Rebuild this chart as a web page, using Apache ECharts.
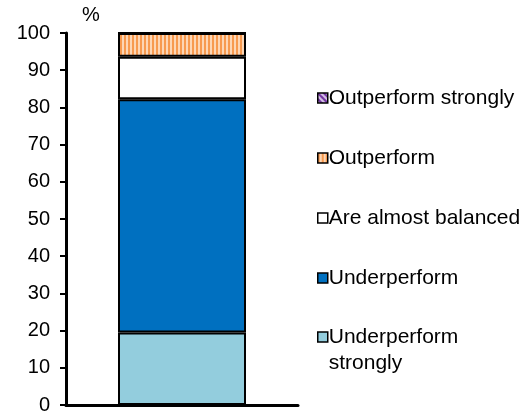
<!DOCTYPE html>
<html>
<head>
<meta charset="utf-8">
<script src="https://cdn.jsdelivr.net/npm/echarts@6/dist/echarts.min.js"></script>
<style>
  html, body { margin: 0; padding: 0; background: #fff; }
  #chart { width: 525px; height: 415px; }
</style>
</head>
<body>
<div id="chart"></div>
<script>
// Share of responses, stacked bottom to top
const categories = [''];
const seriesNames = ['Underperform strongly', 'Underperform', 'Are almost balanced', 'Outperform', 'Outperform strongly'];
const underperformStrongly = [19.5];
const underperform = [62.7];
const almostBalanced = [11.4];
const outperform = [6.4];
const outperformStrongly = [0];
const yTicks = { min: 0, max: 100, interval: 10 };

// Striped fills drawn on small canvases and used as repeating patterns
function stripePattern(w, h, draw) {
  const c = document.createElement('canvas');
  c.width = w; c.height = h;
  draw(c.getContext('2d'));
  return { image: c, repeat: 'repeat' };
}
const orangeStripes = stripePattern(4, 4, ctx => {
  ctx.fillStyle = '#fdd6b5'; ctx.fillRect(0, 0, 4, 4);
  ctx.fillStyle = '#f79a4f'; ctx.fillRect(0, 0, 2, 4);
});
const purpleDiagonal = stripePattern(6, 6, ctx => {
  ctx.fillStyle = '#d6c3e6'; ctx.fillRect(0, 0, 6, 6);
  ctx.strokeStyle = '#7030a0'; ctx.lineWidth = 2;
  ctx.beginPath();
  ctx.moveTo(0, 0); ctx.lineTo(6, 6);
  ctx.moveTo(-3, 3); ctx.lineTo(3, 9);
  ctx.moveTo(3, -3); ctx.lineTo(9, 3);
  ctx.stroke();
});

const values = [underperformStrongly, underperform, almostBalanced, outperform, outperformStrongly];
const fills = ['#93cddd', '#0070c0', '#ffffff', orangeStripes, purpleDiagonal];

const legendBase = {
  orient: 'vertical',
  left: 312,
  itemGap: 36,
  itemWidth: 10,
  itemHeight: 10,
  icon: 'rect',
  itemStyle: { borderColor: '#000', borderWidth: 1.5 },
  textStyle: { fontSize: 21, color: '#000', lineHeight: 24, padding: [0, 0, 0, -4] }
};

const chart = echarts.init(document.getElementById('chart'), null, { renderer: 'canvas' });
chart.setOption({
  animation: false,
  textStyle: { fontFamily: 'Liberation Sans, Arial, sans-serif', color: '#000' },
  grid: { left: 66, right: 227, top: 33, bottom: 6 },
  xAxis: {
    type: 'category',
    data: categories,
    axisLine: { lineStyle: { color: '#000', width: 3 } },
    axisTick: { show: false },
    axisLabel: { show: false }
  },
  yAxis: {
    type: 'value',
    min: yTicks.min, max: yTicks.max, interval: yTicks.interval,
    name: '%',
    nameLocation: 'end',
    nameGap: 8,
    nameTextStyle: { fontSize: 20, color: '#000', align: 'left', padding: [0, 0, 0, 16] },
    axisLine: { show: true, lineStyle: { color: '#000', width: 3 } },
    axisTick: { show: true, length: 6, lineStyle: { color: '#000', width: 2 } },
    axisLabel: { fontSize: 20, color: '#000', margin: 16 },
    splitLine: { show: false }
  },
  legend: [
    Object.assign({}, legendBase, {
      top: 81,
      data: ['Outperform strongly', 'Outperform', 'Are almost balanced', 'Underperform']
    }),
    // two-line entry: a blank first line keeps the swatch level with "Underperform"
    Object.assign({}, legendBase, {
      top: 293,
      data: ['Underperform strongly'],
      textStyle: { fontSize: 21, color: '#000', lineHeight: 26, padding: [0, 0, 0, -4] },
      formatter: () => ' \nUnderperform\nstrongly'
    })
  ],
  series: seriesNames.map((name, i) => ({
    name,
    type: 'bar',
    stack: 'total',
    barWidth: 128,
    data: values[i],
    itemStyle: { color: fills[i], borderColor: '#000', borderWidth: 2 }
  }))
});
</script>
</body>
</html>
